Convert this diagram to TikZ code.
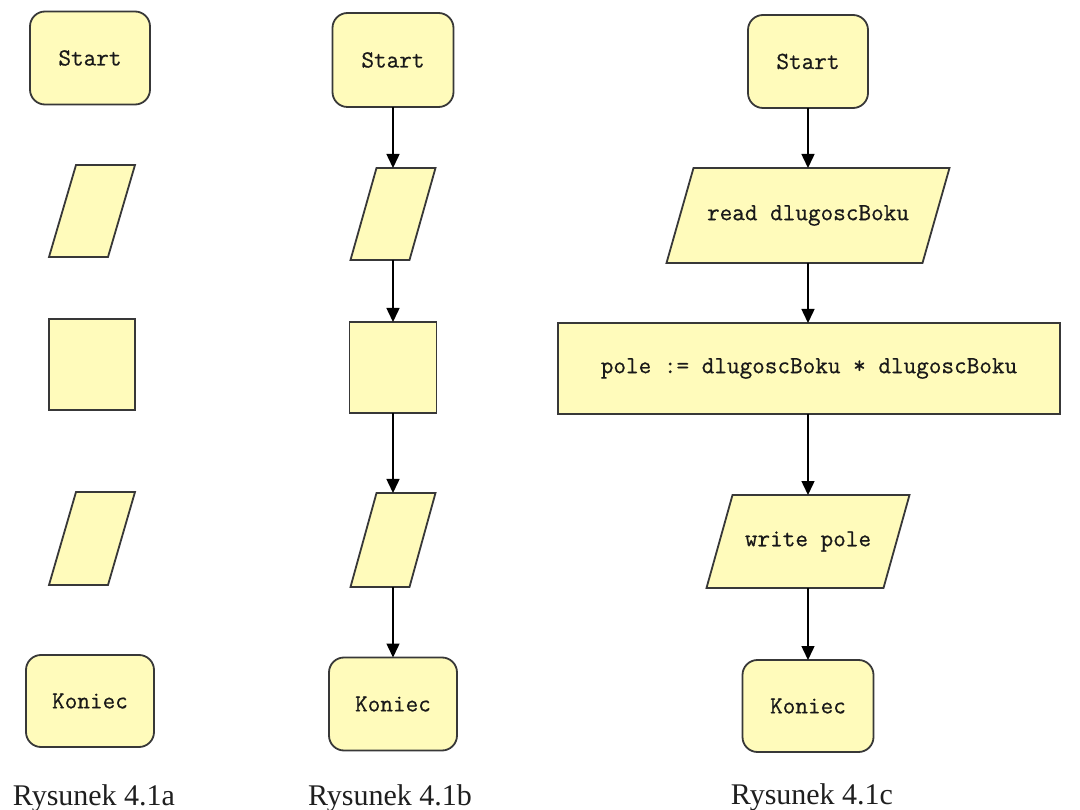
\documentclass[tikz,border=0pt]{standalone}
\usepackage{fontspec}
\setmainfont{Liberation Serif}
\newfontfamily\boxfont[FakeBold=0.6]{Latin Modern Mono}
\usetikzlibrary{arrows.meta,calc,backgrounds}
\definecolor{boxfill}{HTML}{FFFBBB}
\definecolor{boxline}{HTML}{383838}
\tikzset{
  shapetext/.style={font=\boxfont\fontsize{24.5}{28}\selectfont, text=black!90, inner sep=0pt, outer sep=0pt},
  term/.style={shapetext, draw=boxline, fill=boxfill, line width=1.8pt, rounded corners=15pt},
  procbox/.style={shapetext, draw=boxline, fill=boxfill, line width=1.8pt},
  iobox/.style={shapetext},
  ioshape/.style={draw=boxline, fill=boxfill, line width=1.8pt},
  flow/.style={draw=black, line width=1.5pt, -{Triangle[width=13pt,length=14pt]}},
  figcap/.style={font=\fontsize{30}{34}\selectfont, text=black!88, anchor=base, inner sep=0pt}
}
\newcommand\slantbox[2]{%
  \draw[ioshape] ($(#1.north west)+(#2,0)$) -- ($(#1.north east)+(#2,0)$)
    -- ($(#1.south east)+(-#2,0)$) -- ($(#1.south west)+(-#2,0)$) -- cycle;}
\begin{document}
\begin{tikzpicture}[x=1pt,y=-1pt]
\useasboundingbox (0,0) rectangle (1080,810);
% ---- column a
\node[term, minimum width=120pt, minimum height=93pt] (sa) at (90,58) {Start};
\node[iobox, minimum width=59pt, minimum height=92pt] (pa1) at (92,211) {};
\node[procbox, minimum width=86pt, minimum height=91pt] (ra) at (92,364.5) {};
\node[iobox, minimum width=59pt, minimum height=93pt] (pa2) at (92,538.5) {};
\node[term, minimum width=128pt, minimum height=92pt] (ka) at (90,701) {Koniec};
\node[figcap] (capa) at (94,805) {Rysunek 4.1a};
% ---- column b
\node[term, minimum width=121pt, minimum height=94pt] (sb) at (393,60) {Start};
\node[iobox, minimum width=59pt, minimum height=92pt] (pb1) at (393,214) {};
\node[procbox, minimum width=87pt, minimum height=91pt] (rb) at (393,367.5) {};
\node[iobox, minimum width=59pt, minimum height=94pt] (pb2) at (393,540) {};
\node[term, minimum width=128pt, minimum height=93pt] (kb) at (393,704) {Koniec};
\node[figcap] (capb) at (390,805) {Rysunek 4.1b};
% ---- column c
\node[term, minimum width=120pt, minimum height=93pt] (sc) at (808,61.5) {Start};
\node[iobox, minimum width=256pt, minimum height=95pt] (pc1) at (808,215.5) {read dlugoscBoku};
\node[procbox, minimum width=502pt, minimum height=91pt] (rc) at (809,368.5) {pole := dlugoscBoku * dlugoscBoku};
\node[iobox, minimum width=177pt, minimum height=93pt] (pc2) at (808,541.5) {write pole};
\node[term, minimum width=131pt, minimum height=92pt] (kc) at (808,706) {Koniec};
\node[figcap] (capc) at (812,804) {Rysunek 4.1c};
% ---- slanted input/output shapes
\begin{scope}[on background layer]
  \fill[white] (0,0) rectangle (1080,810);
  \slantbox{pa1}{13.5}
  \slantbox{pa2}{13.5}
  \slantbox{pb1}{13}
  \slantbox{pb2}{13}
  \slantbox{pc1}{13.5}
  \slantbox{pc2}{13}
\end{scope}
% ---- connectors
\draw[flow] (sb) -- (pb1);
\draw[flow] (pb1) -- (rb);
\draw[flow] (rb) -- (pb2);
\draw[flow] (pb2) -- (kb);
\draw[flow] (sc) -- (pc1);
\draw[flow] (pc1.south) -- (pc1.south |- rc.north);
\draw[flow] (rc.south -| pc2.north) -- (pc2);
\draw[flow] (pc2) -- (kc);
\end{tikzpicture}
\end{document}
